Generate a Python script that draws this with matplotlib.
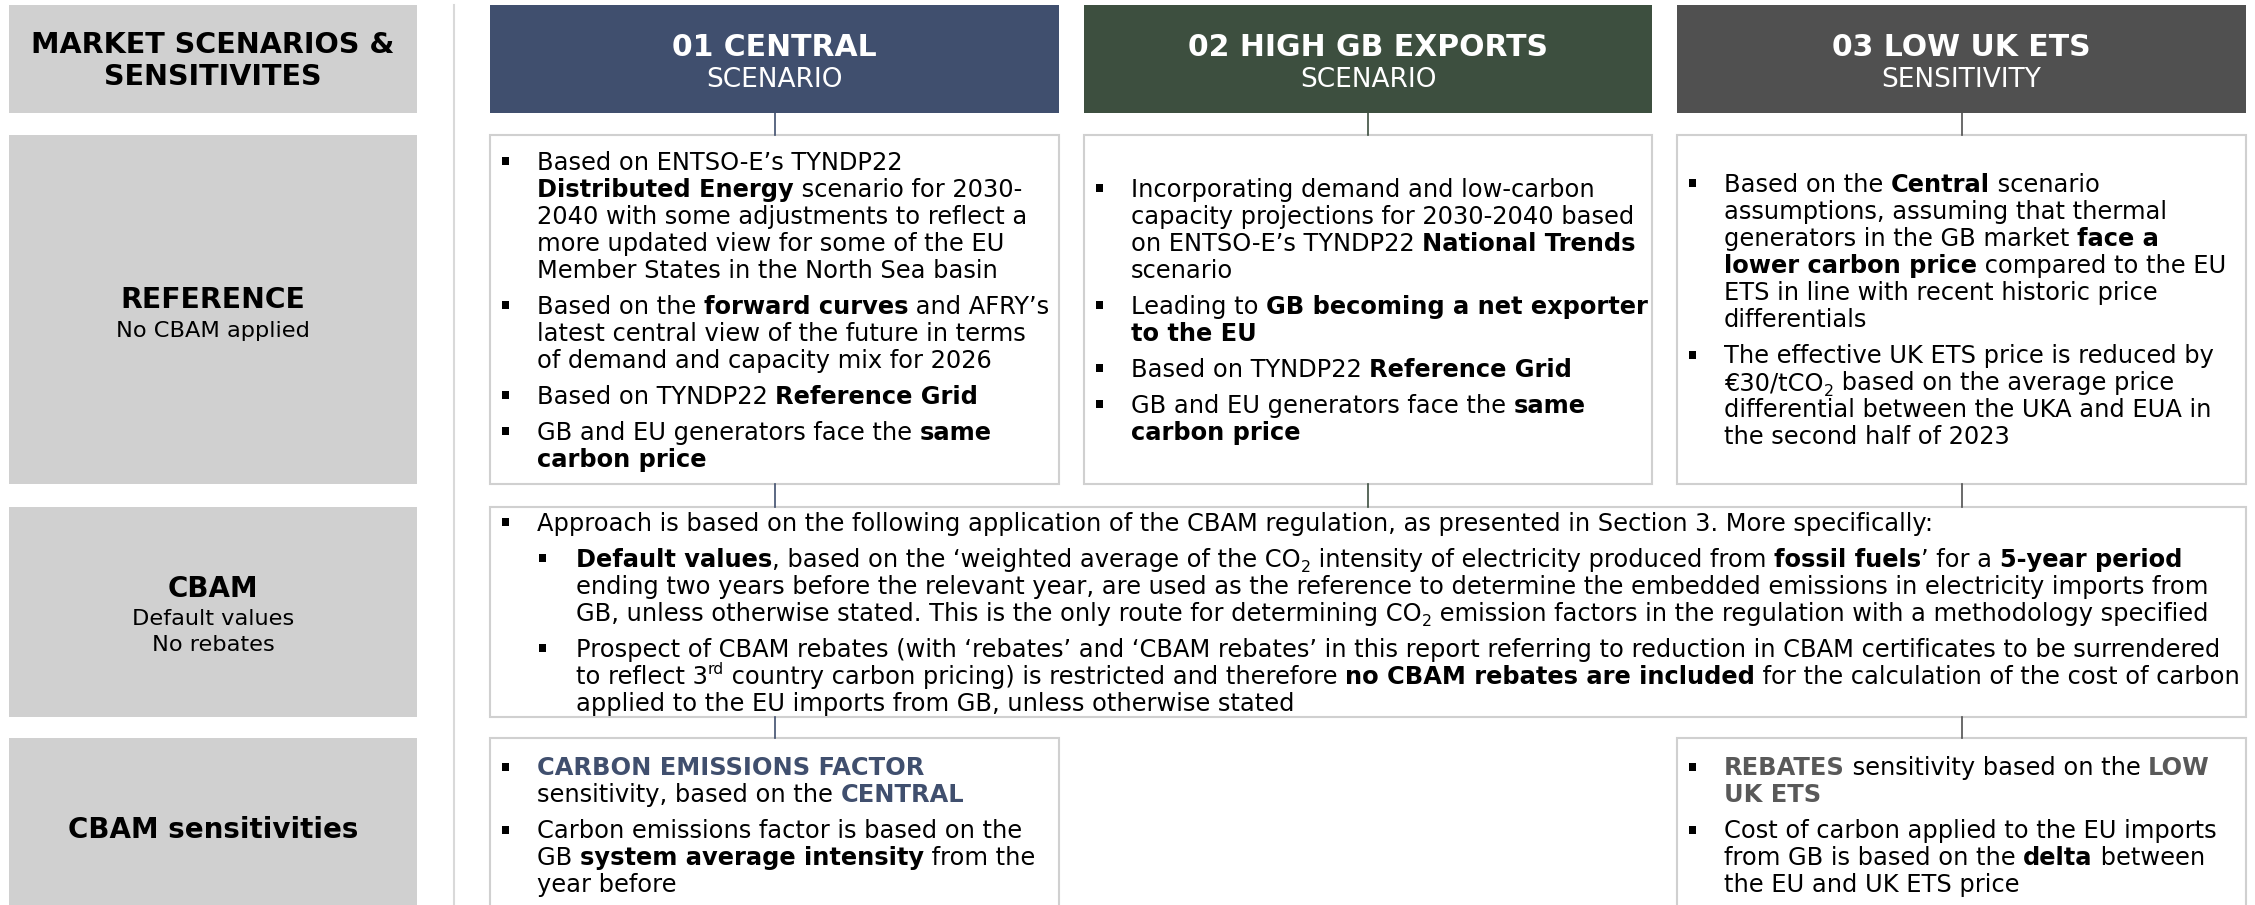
import matplotlib
matplotlib.use("Agg")
import matplotlib.pyplot as plt
from matplotlib.patches import Rectangle
from matplotlib.font_manager import FontProperties

W, H = 2255, 905
DPI = 100

plt.rcParams["font.family"] = "DejaVu Sans"

NAVY = "#404F6E"
GREEN = "#3D4F3F"
DARK_GREY = "#505050"
LABEL_GREY = "#D0D0D0"
BORDER = "#D0D0D0"
SEP = "#D9D9D9"

# ---- text content ----
row_titles = ["MARKET SCENARIOS &\nSENSITIVITES", "REFERENCE", "CBAM", "CBAM sensitivities"]
row_subtitles = [[], ["No CBAM applied"], ["Default values", "No rebates"], []]

header_titles = ["01 CENTRAL", "02 HIGH GB EXPORTS", "03 LOW UK ETS"]
header_subtitles = ["SCENARIO", "SCENARIO", "SENSITIVITY"]
header_colors = [NAVY, GREEN, DARK_GREY]

# each bullet: (level, [line, line, ...]); each line: [(text, style), ...]
central_bullets = [
    (0, [[("Based on ENTSO-E’s TYNDP22", "n")],
         [("Distributed Energy", "b"), (" scenario for 2030-", "n")],
         [("2040 with some adjustments to reflect a", "n")],
         [("more updated view for some of the EU", "n")],
         [("Member States in the North Sea basin", "n")]]),
    (0, [[("Based on the ", "n"), ("forward curves", "b"), (" and AFRY’s", "n")],
         [("latest central view of the future in terms", "n")],
         [("of demand and capacity mix for 2026", "n")]]),
    (0, [[("Based on TYNDP22 ", "n"), ("Reference Grid", "b")]]),
    (0, [[("GB and EU generators face the ", "n"), ("same", "b")],
         [("carbon price", "b")]]),
]

exports_bullets = [
    (0, [[("Incorporating demand and low-carbon", "n")],
         [("capacity projections for 2030-2040 based", "n")],
         [("on ENTSO-E’s TYNDP22 ", "n"), ("National Trends", "b")],
         [("scenario", "n")]]),
    (0, [[("Leading to ", "n"), ("GB becoming a net exporter", "b")],
         [("to the EU", "b")]]),
    (0, [[("Based on TYNDP22 ", "n"), ("Reference Grid", "b")]]),
    (0, [[("GB and EU generators face the ", "n"), ("same", "b")],
         [("carbon price", "b")]]),
]

low_ets_bullets = [
    (0, [[("Based on the ", "n"), ("Central", "b"), (" scenario", "n")],
         [("assumptions, assuming that thermal", "n")],
         [("generators in the GB market ", "n"), ("face a", "b")],
         [("lower carbon price", "b"), (" compared to the EU", "n")],
         [("ETS in line with recent historic price", "n")],
         [("differentials", "n")]]),
    (0, [[("The effective UK ETS price is reduced by", "n")],
         [("€30/tCO", "n"), ("2", "sub"), (" based on the average price", "n")],
         [("differential between the UKA and EUA in", "n")],
         [("the second half of 2023", "n")]]),
]

cbam_bullets = [
    (0, [[("Approach is based on the following application of the CBAM regulation, as presented in Section 3. More specifically:", "n")]]),
    (1, [[("Default values", "b"), (", based on the ‘weighted average of the CO", "n"), ("2", "sub"),
          (" intensity of electricity produced from ", "n"), ("fossil fuels", "b"), ("’ for a ", "n"),
          ("5-year period", "b")],
         [("ending two years before the relevant year, are used as the reference to determine the embedded emissions in electricity imports from", "n")],
         [("GB, unless otherwise stated. This is the only route for determining CO", "n"), ("2", "sub"),
          (" emission factors in the regulation with a methodology specified", "n")]]),
    (1, [[("Prospect of CBAM rebates (with ‘rebates’ and ‘CBAM rebates’ in this report referring to reduction in CBAM certificates to be surrendered", "n")],
         [("to reflect 3", "n"), ("rd", "sup"), (" country carbon pricing) is restricted and therefore ", "n"),
          ("no CBAM rebates are included", "b"), (" for the calculation of the cost of carbon", "n")],
         [("applied to the EU imports from GB, unless otherwise stated", "n")]]),
]

emissions_bullets = [
    (0, [[("CARBON EMISSIONS FACTOR", "bn")],
         [("sensitivity, based on the ", "n"), ("CENTRAL", "bn")]]),
    (0, [[("Carbon emissions factor is based on the", "n")],
         [("GB ", "n"), ("system average intensity", "b"), (" from the", "n")],
         [("year before", "n")]]),
]

rebates_bullets = [
    (0, [[("REBATES", "bg"), (" sensitivity based on the ", "n"), ("LOW", "bg")],
         [("UK ETS", "bg")]]),
    (0, [[("Cost of carbon applied to the EU imports", "n")],
         [("from GB is based on the ", "n"), ("delta", "b"), (" between", "n")],
         [("the EU and UK ETS price", "n")]]),
]

# ---- layout (pixels) ----
label_x = (9, 417)
sep_x = 454
col_x = [(490, 1059), (1084, 1652), (1677, 2246)]
row_y = [(5, 113), (135, 484), (507, 717), (738, 912)]
title_y = [61, 300, 589, 830]
title_size = [20.6, 20.3, 20.0, 20.0]
subtitle_y = [[], [331], [619, 645], []]
SUB_SIZE = 16.2

BODY = 17.4
PITCH = 27
GAP = 9

STYLES = {
    "n": ("normal", "black", 1.0, 0.0),
    "b": ("bold", "black", 1.0, 0.0),
    "sub": ("normal", "black", 0.65, 0.22),
    "sup": ("normal", "black", 0.65, -0.40),
    "bn": ("bold", NAVY, 1.0, 0.0),
    "bg": ("bold", "#595959", 1.0, 0.0),
}

fig = plt.figure(figsize=(W / DPI, H / DPI), dpi=DPI)
ax = fig.add_axes([0, 0, 1, 1])
ax.set_xlim(0, W)
ax.set_ylim(H, 0)
ax.axis("off")
renderer = fig.canvas.get_renderer()


def seg_width(s, prop):
    # advance width incl. spaces
    w1, _, _ = renderer.get_text_width_height_descent("|" + s + "|", prop, ismath=False)
    w0, _, _ = renderer.get_text_width_height_descent("||", prop, ismath=False)
    return w1 - w0


def draw_line(x, y_base, segs, size):
    em = size * DPI / 72
    for text, st in segs:
        weight, color, scale, dy = STYLES[st]
        prop = FontProperties(family="DejaVu Sans", weight=weight, size=size * scale)
        ax.text(x, y_base + dy * em, text, fontproperties=prop, color=color,
                ha="left", va="baseline")
        x += seg_width(text, prop)


def draw_block(box_x, box_y, bullets, size=BODY):
    x0 = box_x[0]
    n_lines = sum(len(lines) for _, lines in bullets)
    span = (n_lines - 1) * PITCH + (len(bullets) - 1) * GAP
    y = (box_y[0] + box_y[1]) / 2 - span / 2
    em = size * DPI / 72
    for level, lines in bullets:
        bx = x0 + 15 + level * 37
        tx = x0 + 47 + level * 39
        ax.add_patch(Rectangle((bx - 3.5, y - 4), 7.5, 8, color="black", lw=0))
        for segs in lines:
            draw_line(tx, y + 0.36 * em, segs, size)
            y += PITCH
        y += GAP


def box(x, y, fc, ec=None, lw=0):
    ax.add_patch(Rectangle((x[0], y[0]), x[1] - x[0], y[1] - y[0],
                           facecolor=fc, edgecolor=ec if ec else fc, lw=lw))


# separator
ax.plot([sep_x, sep_x], [5, H], color=SEP, lw=1.5)

# connectors
for (xa, xb), c in zip(col_x, header_colors):
    xc = (xa + xb) / 2
    ax.plot([xc, xc], [row_y[0][1], row_y[1][0]], color=c, lw=1.2)
    ax.plot([xc, xc], [row_y[1][1], row_y[2][0]], color=c, lw=1.2)
for i in (0, 2):
    xc = sum(col_x[i]) / 2
    ax.plot([xc, xc], [row_y[2][1], row_y[3][0]], color=header_colors[i], lw=1.2)

# left labels
xc = sum(label_x) / 2
for i, (ya, yb) in enumerate(row_y):
    box(label_x, (ya, yb), LABEL_GREY)
    ax.text(xc, title_y[i], row_titles[i], ha="center", va="center",
            fontsize=title_size[i], fontweight="bold", linespacing=1.2)
    for s, ys in zip(row_subtitles[i], subtitle_y[i]):
        ax.text(xc, ys, s, ha="center", va="center", fontsize=SUB_SIZE)

# headers
for (xa, xb), t, s, c in zip(col_x, header_titles, header_subtitles, header_colors):
    box((xa, xb), row_y[0], c)
    xc_h = (xa + xb) / 2
    ax.text(xc_h, 48, t, ha="center", va="center", fontsize=21.5, fontweight="bold", color="white")
    ax.text(xc_h, 80, s, ha="center", va="center", fontsize=19, color="white")

# content boxes
for xr in col_x:
    box(xr, row_y[1], "white", BORDER, 1.5)
box((col_x[0][0], col_x[2][1]), row_y[2], "white", BORDER, 1.5)
box(col_x[0], row_y[3], "white", BORDER, 1.5)
box(col_x[2], row_y[3], "white", BORDER, 1.5)

draw_block(col_x[0], row_y[1], central_bullets)
draw_block(col_x[1], row_y[1], exports_bullets)
draw_block(col_x[2], row_y[1], low_ets_bullets)
draw_block((col_x[0][0], col_x[2][1]), row_y[2], cbam_bullets)
draw_block(col_x[0], row_y[3], emissions_bullets)
draw_block(col_x[2], row_y[3], rebates_bullets)

fig.savefig("out.png", dpi=DPI, facecolor="white")
